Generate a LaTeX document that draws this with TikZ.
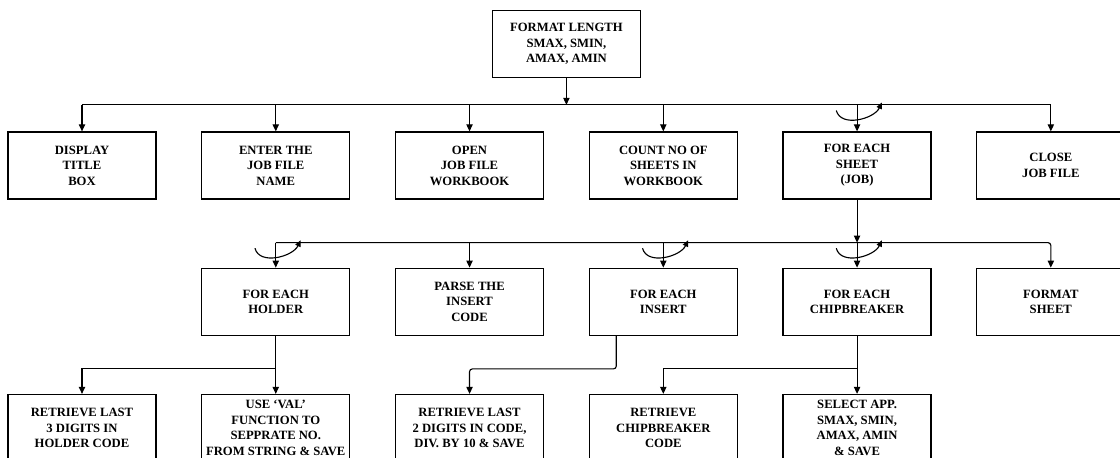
\documentclass[tikz,border=0pt]{standalone}
\usepackage{fontspec}
\setmainfont{Liberation Serif}
\usetikzlibrary{positioning,arrows.meta,calc}
\tikzset{
    procbox/.style={draw=black,fill=white,line width=0.9pt,
        minimum width=3.7cm,minimum height=1.675cm,inner sep=2pt,
        align=center,font=\fontsize{9}{11}\selectfont\bfseries},
    arrow/.style={-{Triangle[length=5pt,width=4.5pt]},draw=black,line width=0.8pt},
    line/.style={draw=black,line width=0.8pt},
    looparrow/.style={-{Triangle[length=4.5pt,width=4pt]},draw=black,line width=0.8pt}
}
% curved "repeat" mark drawn across a drop line
\newcommand{\iterloop}[1]{%
    \draw[looparrow] ($(#1)+(-0.52,-0.14)$) to[out=-75,in=-115] ($(#1)+(0.62,0.06)$);}

\begin{document}
\begin{tikzpicture}[node distance=1.7cm and 1.1125cm]
    \useasboundingbox (0,0) rectangle (28,-11.425);
    % first level
    \node[procbox] (disp) at (2.05,-4.1375) {DISPLAY\\TITLE\\BOX};
    \node[procbox] (enter) [right=of disp] {ENTER THE\\JOB FILE\\NAME};
    \node[procbox] (open) [right=of enter] {OPEN\\JOB FILE\\WORKBOOK};
    \node[procbox] (count) [right=of open] {COUNT NO OF\\SHEETS IN\\WORKBOOK};
    \node[procbox] (sheet) [right=of count] {FOR EACH\\SHEET\\(JOB)};
    \node[procbox] (close) [right=of sheet] {CLOSE\\JOB FILE};
    \coordinate (mid) at ($(open.north)!0.5!(count.north)$);
    \node[procbox] (fmtlen) [above=1.325cm of mid] {FORMAT LENGTH\\SMAX, SMIN,\\AMAX, AMIN};
    % second level
    \node[procbox] (holder) [below=of enter] {FOR EACH\\HOLDER};
    \node[procbox] (parse) [right=of holder] {PARSE THE\\INSERT\\CODE};
    \node[procbox] (insert) [right=of parse] {FOR EACH\\INSERT};
    \node[procbox] (chip) [right=of insert] {FOR EACH\\CHIPBREAKER};
    \node[procbox] (fmtsheet) [right=of chip] {FORMAT\\SHEET};
    % third level
    \node[procbox] (useval) [below=1.45cm of holder] {USE `VAL'\\FUNCTION TO\\SEPPRATE NO.\\FROM STRING \& SAVE};
    \node[procbox] (ret3) [left=of useval] {RETRIEVE LAST\\3 DIGITS IN\\HOLDER CODE};
    \node[procbox] (ret2) [right=of useval] {RETRIEVE LAST\\2 DIGITS IN CODE,\\DIV. BY 10 \& SAVE};
    \node[procbox] (retchip) [below=1.45cm of insert] {RETRIEVE\\CHIPBREAKER\\CODE};
    \node[procbox] (select) [below=1.45cm of chip] {SELECT APP.\\SMAX, SMIN,\\AMAX, AMIN\\\& SAVE};

    % top bus
    \coordinate (bus1) at ($(fmtlen.south)!0.5!(mid)$);
    \draw[arrow] (fmtlen) -- (bus1);
    \draw[line] (disp.north |- bus1) -- (close.north |- bus1);
    \foreach \n in {disp,enter,open,count,sheet,close}
        \draw[arrow] (\n.north |- bus1) -- (\n.north);
    \coordinate (sheetin) at (sheet.north |- bus1);
    \iterloop{sheetin}

    % second bus
    \coordinate (bus2) at ($(chip.north)+(0,0.625)$);
    \draw[arrow] (sheet) -- (sheet.south |- bus2);
    \draw[arrow,rounded corners=2pt] (holder.north |- bus2) -- (fmtsheet.north |- bus2) -- (fmtsheet.north);
    \foreach \n in {holder,parse,insert,chip}
        \draw[arrow] (\n.north |- bus2) -- (\n.north);
    \coordinate (holderin) at (holder.north |- bus2);
    \coordinate (insertin) at (insert.north |- bus2);
    \coordinate (chipin) at (chip.north |- bus2);
    \iterloop{holderin}
    \iterloop{insertin}
    \iterloop{chipin}

    % third bus
    \coordinate (bus3) at ($(useval.north)+(0,0.625)$);
    \draw[arrow] (holder) -- (useval);
    \draw[arrow] (useval.north |- bus3) -- (ret3.north |- bus3) -- (ret3.north);
    \coordinate (insout) at ($(insert.south)+(-1.175,0)$);
    \draw[arrow,rounded corners=2pt] (insout) -- (insout |- bus3) -- (ret2.north |- bus3) -- (ret2.north);
    \draw[arrow] (chip) -- (select);
    \draw[arrow] (chip.south |- bus3) -- (retchip.north |- bus3) -- (retchip.north);
\end{tikzpicture}
\end{document}
